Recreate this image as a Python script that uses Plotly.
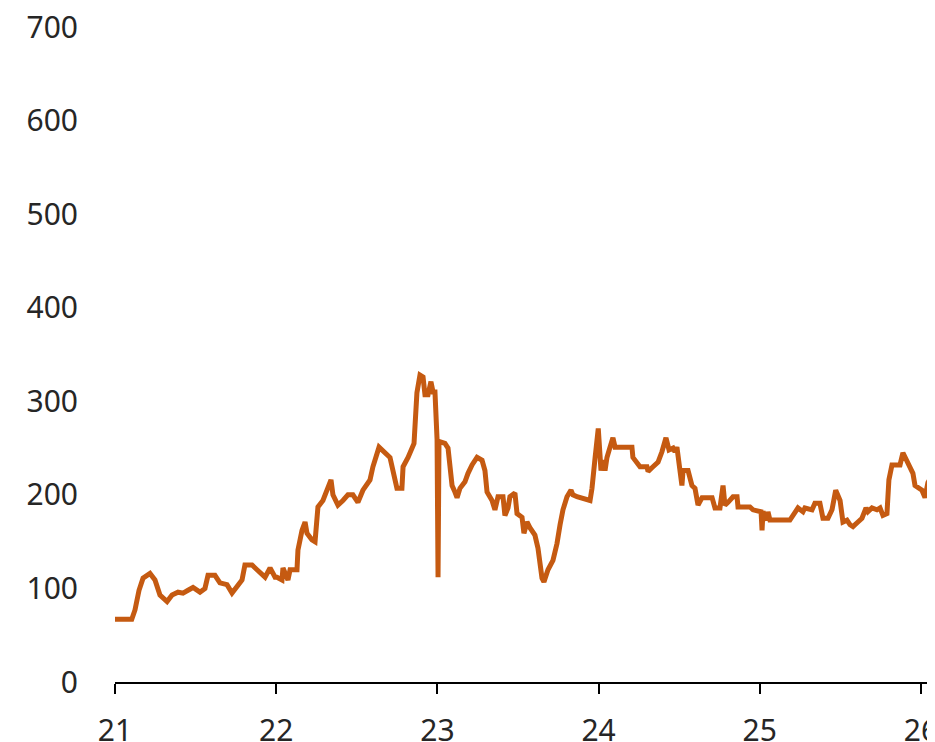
import plotly.graph_objects as go

# decimal year (21 = 2021) and values
years = [21.000, 21.104, 21.124, 21.149, 21.174, 21.217, 21.248, 21.279, 21.323, 21.354,
         21.391, 21.422, 21.453, 21.484, 21.527, 21.558, 21.577, 21.620, 21.651, 21.695,
         21.726, 21.757, 21.788, 21.806, 21.850, 21.881, 21.931, 21.962, 21.993, 22.005,
         22.036, 22.042, 22.073, 22.086, 22.129, 22.135, 22.160, 22.179, 22.191, 22.222,
         22.241, 22.259, 22.290, 22.315, 22.340, 22.352, 22.383, 22.414, 22.445, 22.476,
         22.507, 22.538, 22.582, 22.600, 22.638, 22.706, 22.725, 22.749, 22.780, 22.787,
         22.818, 22.849, 22.855, 22.873, 22.892, 22.911, 22.923, 22.942, 22.960, 22.973,
         22.985, 22.998, 23.004, 23.010, 23.047, 23.066, 23.091, 23.109, 23.122, 23.140,
         23.171, 23.190, 23.215, 23.246, 23.277, 23.295, 23.308, 23.339, 23.357, 23.376,
         23.407, 23.419, 23.438, 23.450, 23.481, 23.494, 23.525, 23.537, 23.556, 23.574,
         23.605, 23.624, 23.649, 23.661, 23.686, 23.717, 23.742, 23.761, 23.779, 23.804,
         23.829, 23.841, 23.866, 23.947, 23.959, 23.978, 23.998, 24.015, 24.027, 24.040,
         24.052, 24.071, 24.089, 24.102, 24.207, 24.213, 24.244, 24.257, 24.300, 24.307,
         24.331, 24.369, 24.393, 24.418, 24.437, 24.462, 24.474, 24.486, 24.517, 24.524,
         24.555, 24.579, 24.598, 24.617, 24.642, 24.704, 24.722, 24.753, 24.772, 24.784,
         24.803, 24.834, 24.859, 24.865, 24.939, 24.958, 25.008, 25.014, 25.020, 25.045,
         25.051, 25.063, 25.187, 25.206, 25.237, 25.268, 25.280, 25.324, 25.342, 25.373,
         25.392, 25.423, 25.448, 25.471, 25.498, 25.516, 25.541, 25.560, 25.578, 25.609,
         25.634, 25.659, 25.671, 25.696, 25.727, 25.746, 25.764, 25.789, 25.801, 25.820,
         25.870, 25.888, 25.919, 25.950, 25.963, 26.006, 26.025, 26.043, 26.062, 26.074,
         26.087]
values = [67, 67, 77, 98, 111, 116, 109, 93, 86, 93,
          96, 95, 98, 101, 96, 100, 114, 114, 106, 104,
          95, 102, 109, 125, 125, 120, 112, 122, 112, 112,
          109, 122, 109, 120, 120, 141, 162, 171, 159, 152,
          150, 187, 194, 205, 216, 200, 189, 194, 200, 200,
          192, 205, 216, 230, 251, 240, 223, 207, 207, 230,
          240, 251, 255, 309, 328, 326, 307, 307, 321, 310,
          310, 259, 112, 257, 255, 250, 210, 203, 197, 207,
          214, 223, 232, 240, 237, 226, 203, 194, 184, 198,
          198, 178, 186, 198, 202, 180, 176, 159, 171, 165,
          157, 143, 111, 107, 120, 130, 148, 168, 184, 198,
          205, 200, 198, 194, 207, 239, 271, 226, 237, 226,
          240, 251, 261, 251, 251, 240, 234, 230, 230, 225,
          229, 235, 246, 261, 248, 250, 246, 251, 210, 226,
          226, 210, 207, 189, 197, 197, 186, 186, 210, 189,
          192, 198, 198, 187, 187, 184, 182, 162, 182, 173,
          182, 173, 173, 178, 186, 182, 186, 184, 191, 191,
          175, 175, 184, 205, 194, 171, 173, 168, 166, 171,
          175, 186, 182, 186, 184, 186, 178, 180, 216, 232,
          232, 245, 235, 223, 210, 205, 197, 213, 219, 240,
          248]

x_ticks = [21, 22, 23, 24, 25, 26]
x_labels = ["21", "22", "23", "24", "25", "26"]
y_ticks = [0, 100, 200, 300, 400, 500, 600, 700]

fig = go.Figure()
fig.add_trace(go.Scatter(x=years, y=values, mode="lines",
                         line=dict(color="#C55A11", width=5),
                         showlegend=False))

font_family = "Noto Sans"
fig.update_layout(
    width=927, height=734,
    margin=dict(l=107, r=0, t=19, b=60, autoexpand=False),
    paper_bgcolor="white", plot_bgcolor="white",
    font=dict(family=font_family, size=30, color="#262626"),
    xaxis=dict(range=[21, 26.087], tickvals=x_ticks, ticktext=x_labels,
               showgrid=False, zeroline=False, showline=True,
               linecolor="black", linewidth=2, ticks="outside",
               ticklen=10, tickwidth=2, tickcolor="black",
               automargin=False, ticklabelstandoff=11,
               ticklabeloverflow="allow"),
    yaxis=dict(range=[0, 700], tickvals=y_ticks, showgrid=False,
               zeroline=False, showline=False, ticks="",
               automargin=False, ticklabelstandoff=36,
               ticklabeloverflow="allow"),
)
fig.write_html("out.html")
